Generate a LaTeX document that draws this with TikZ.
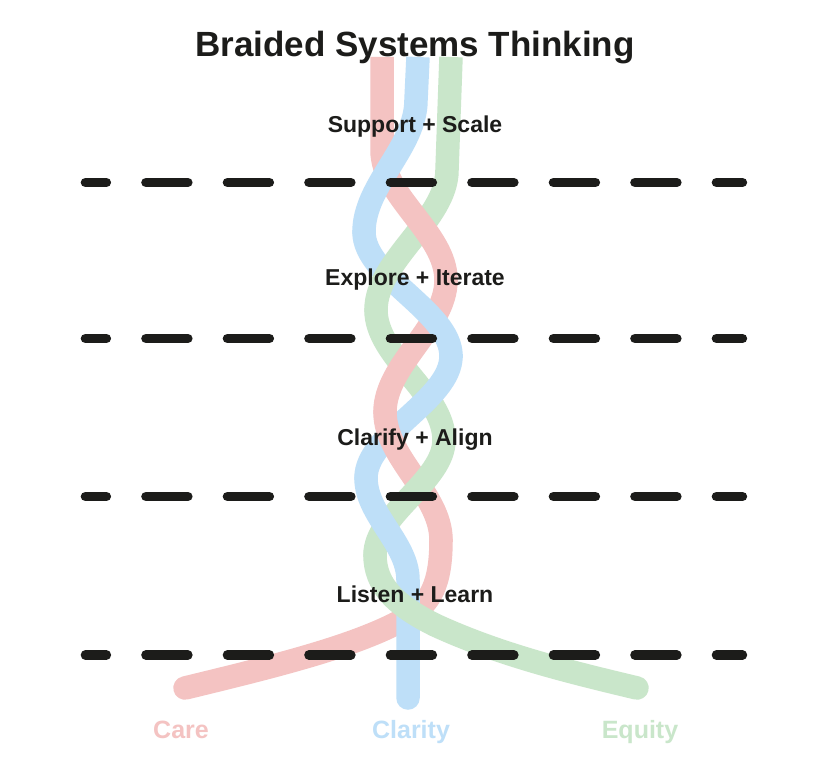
\documentclass[tikz,border=0pt]{standalone}
\usepackage{fontspec}
\setmainfont{Liberation Sans}
\definecolor{carepink}{HTML}{F4C3C2}
\definecolor{clarityblue}{HTML}{BEDFF8}
\definecolor{equitygreen}{HTML}{C9E6CA}
\definecolor{ink}{HTML}{1C1C1A}

\begin{document}
\begin{tikzpicture}[x=1pt, y=-1pt,
    strand/.style={line width=23.5pt},
    care/.style={strand, carepink},
    clar/.style={strand, clarityblue},
    equi/.style={strand, equitygreen},
    divider/.style={ink, line width=9.4pt, line cap=round,
      dash pattern=on 42pt off 39.5pt, dash phase=21pt},
    stage/.style={ink, font=\fontsize{23}{28}\selectfont\bfseries, anchor=base},
    strandname/.style={font=\fontsize{25}{30}\selectfont\bfseries, anchor=base}]
        \fill[white] (0,0) rectangle (830,768);
        \useasboundingbox (0,0) rectangle (830,768);

        % braid, lowest pieces first (each piece overlaps its neighbours by 2pt)
        \draw[equi] (376,308) -- (376,310)
          .. controls (376,357) and (444,393) .. (444,440) -- (444,442);
        \draw[clar] (451,354) -- (451,356)
          .. controls (451,400) and (366,434) .. (366,478) -- (366,480);
        \draw[care] (385,410) -- (385,412)
          .. controls (385,458) and (441,494) .. (441,540) -- (441,542);
        \draw[care] (446,278) -- (446,280)
          .. controls (446,327.5) and (385,364.5) .. (385,412) -- (385,414);
        \draw[clar] (364,230) -- (364,232)
          .. controls (364,276.6) and (451,311.4) .. (451,356) -- (451,358);
        \draw[equi] (451,57) -- (447,170)
          .. controls (447,220) and (376,260) .. (376,310) -- (376,312);
        \draw[care] (382,57) -- (382,150)
          .. controls (382,197) and (446,233) .. (446,280) -- (446,282);
        \draw[clar] (418,57) -- (416,100)
          .. controls (416,147.5) and (364,184.5) .. (364,232) -- (364,234);
        \draw[equi] (444,438) -- (444,440)
          .. controls (444,481) and (375,514) .. (375,555) -- (375,557);
        % loose ends
        \draw[care, line cap=round] (441,540)
          .. controls (441,585) and (430,603) .. (408,617)
          .. controls (360,645) and (280,665) .. (185,688);
        \draw[clar, line cap=round] (366,478)
          .. controls (366,515) and (408,543) .. (408,580) -- (408,698);
        \draw[equi, line cap=round] (375,555)
          .. controls (375,585) and (395,605) .. (435,625)
          .. controls (500,655) and (570,672) .. (637,688);

        \foreach \y in {182.5,338.5,496.5,655}
          \draw[divider] (85.4,\y) -- (742.5,\y);

        \node[ink, anchor=base, font=\fontsize{35}{42}\selectfont\bfseries]
          (title) at (415,56.5) {Braided Systems Thinking};
        \node[stage] (support) at (415,132) {Support + Scale};
        \node[stage] (explore) at (415,285) {Explore + Iterate};
        \node[stage] (clarify) at (415,445) {Clarify + Align};
        \node[stage] (listen) at (415,602) {Listen + Learn};
        \node[strandname, carepink] (care) at (181,738) {Care};
        \node[strandname, clarityblue] (clarity) at (411,738) {Clarity};
        \node[strandname, equitygreen] (equity) at (640,738) {Equity};
      \end{tikzpicture}
\end{document}
